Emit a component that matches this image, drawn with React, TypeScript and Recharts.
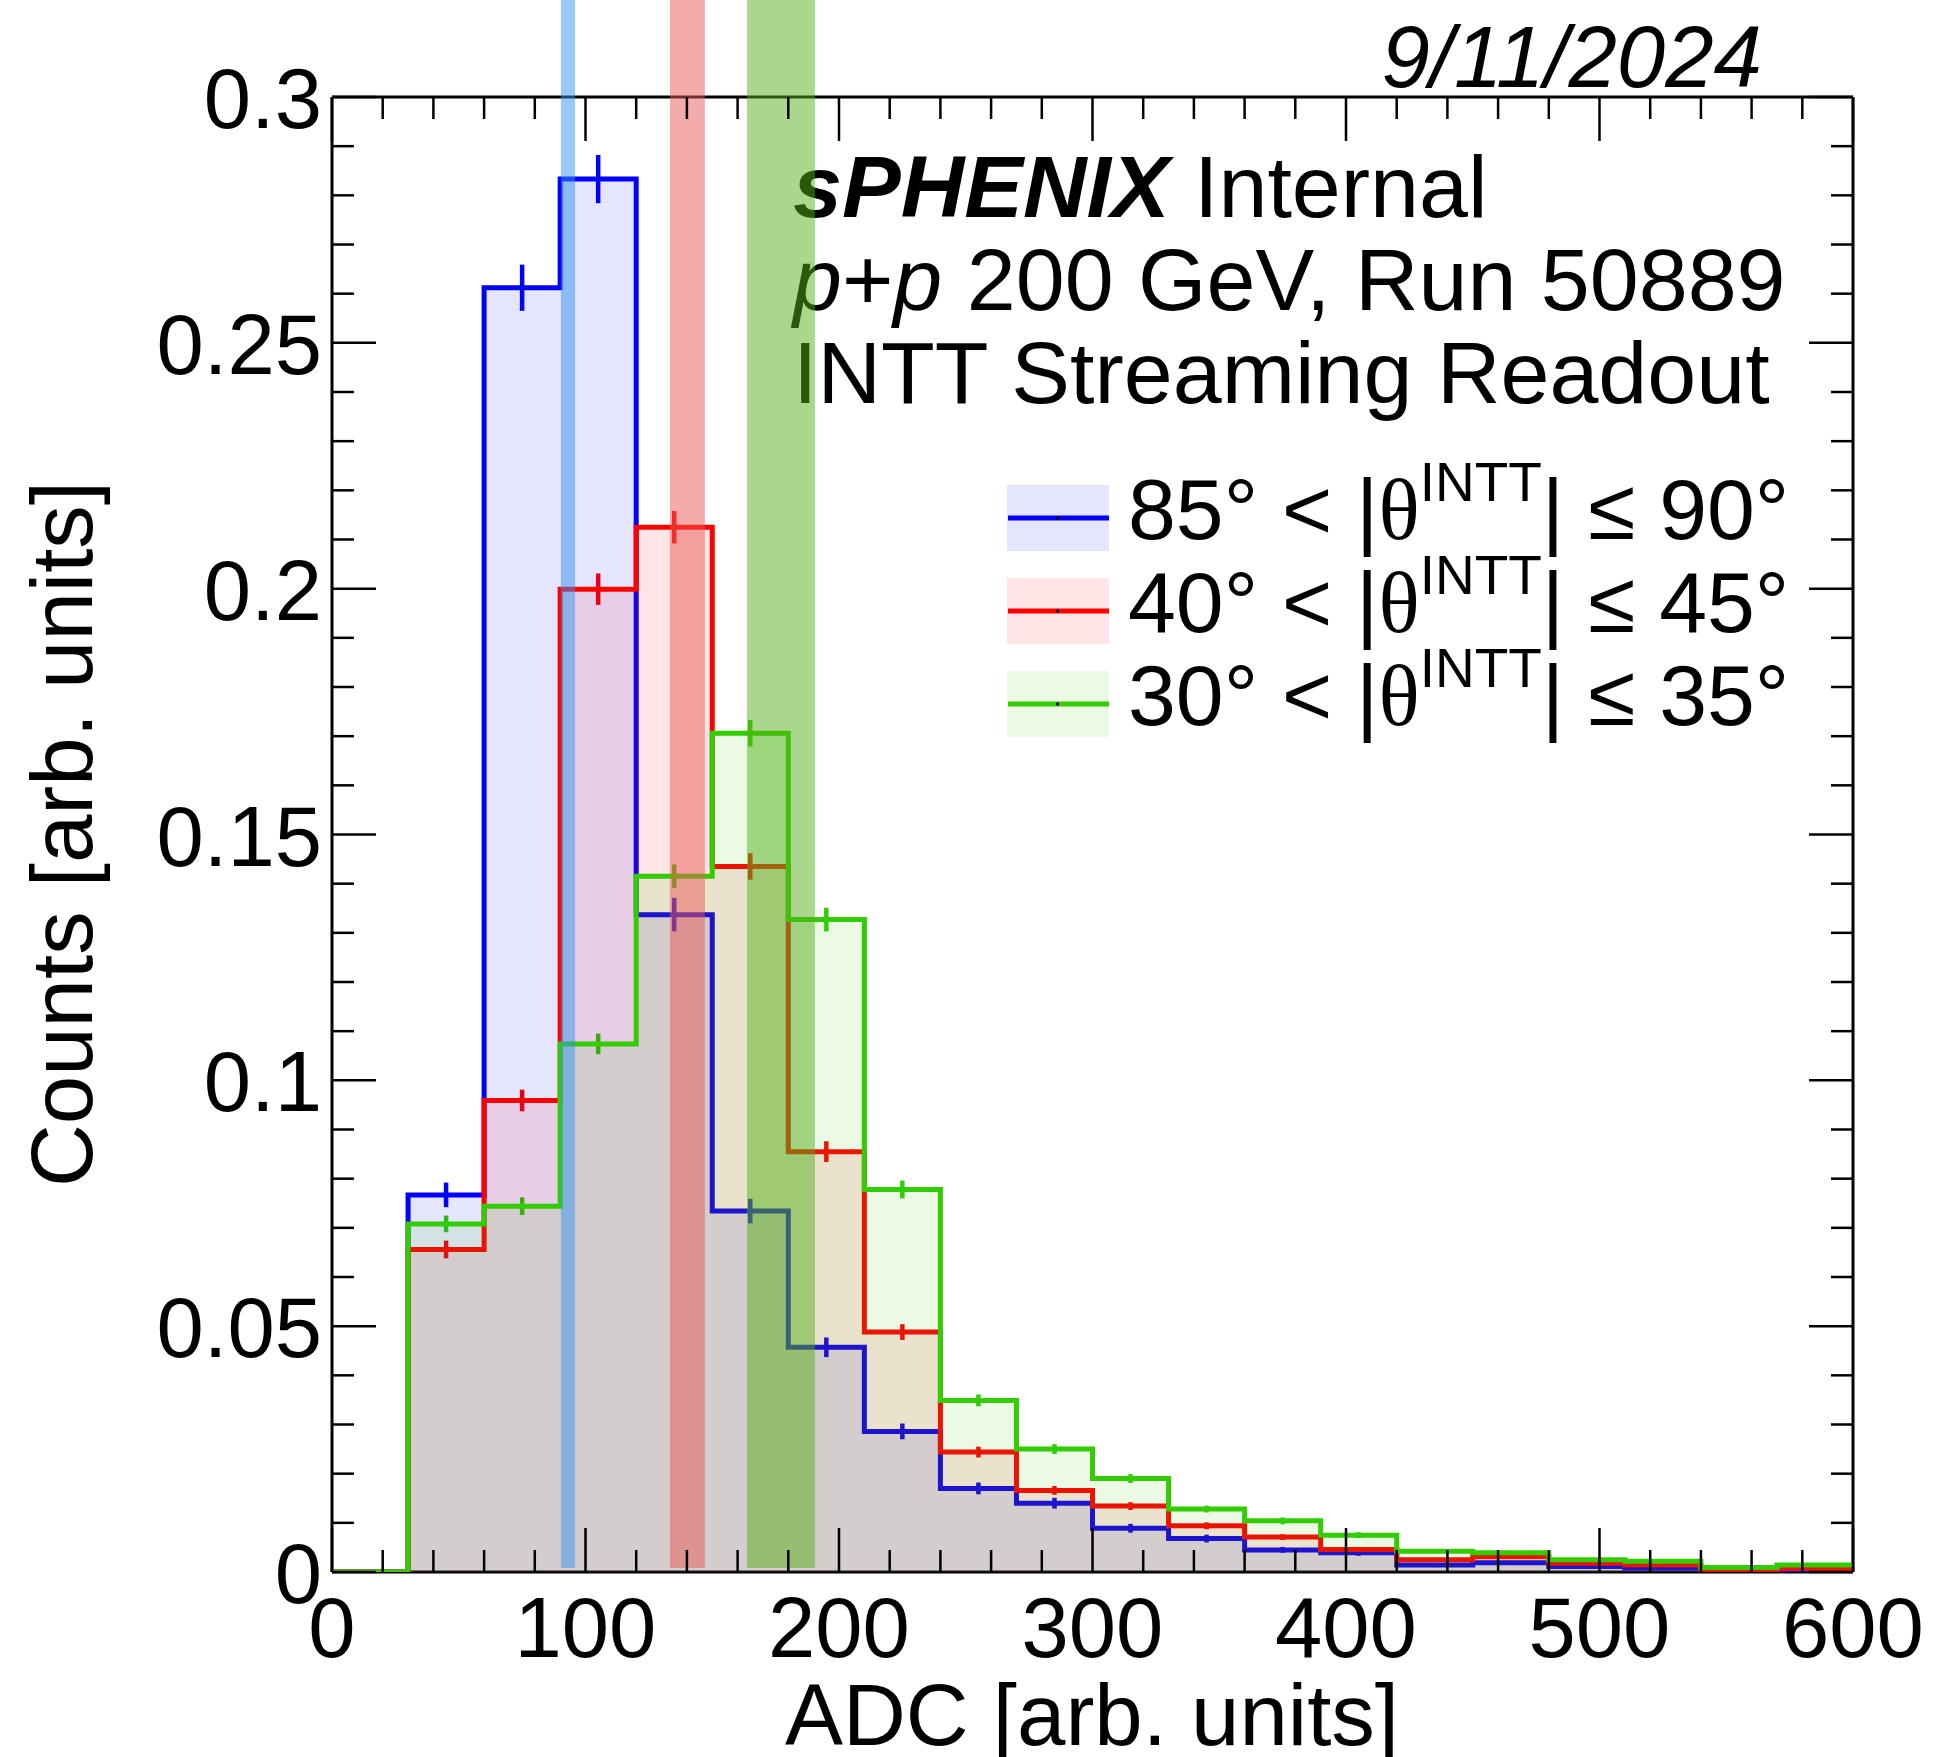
import React from 'react';
import {
  ComposedChart,
  Area,
  Scatter,
  ErrorBar,
  XAxis,
  YAxis,
  ReferenceArea,
  Legend,
} from 'recharts';

const FONT = '"Liberation Sans", Arial, Helvetica, sans-serif';

// ADC bins, 30 wide, lower edges
const binLow = [0, 30, 60, 90, 120, 150, 180, 210, 240, 270, 300, 330, 360, 390, 420, 450, 480, 510, 540, 570];
const binWidth = 30;

// 85 < |theta| <= 90
const blueVals = [0, 0.0767, 0.2612, 0.2833, 0.1337, 0.0734, 0.0457, 0.0286, 0.017, 0.014, 0.0089, 0.0068, 0.0045, 0.0039, 0.0014, 0.0019, 0.0011, 0.0008, 0.0002, 0.0005];
const blueErrs = [0, 0.0025, 0.0047, 0.0049, 0.0034, 0.0025, 0.002, 0.0016, 0.0012, 0.0011, 0.0009, 0.0008, 0.0006, 0.0006, 0.0004, 0.0004, 0.0003, 0.0003, 0.0001, 0.0002];
// 40 < |theta| <= 45
const redVals = [0, 0.0656, 0.0959, 0.1999, 0.2125, 0.1435, 0.0855, 0.0488, 0.0244, 0.0166, 0.0134, 0.0094, 0.0071, 0.0046, 0.0025, 0.0031, 0.0018, 0.0014, 0.0004, 0.0007];
const redErrs = [0, 0.0018, 0.0022, 0.0032, 0.0033, 0.0027, 0.0021, 0.0016, 0.0011, 0.0009, 0.0008, 0.0007, 0.0006, 0.0005, 0.0004, 0.0004, 0.0003, 0.0003, 0.0001, 0.0002];
// 30 < |theta| <= 35
const greenVals = [0, 0.0708, 0.0744, 0.1074, 0.1415, 0.1706, 0.1327, 0.0778, 0.0349, 0.025, 0.019, 0.0128, 0.0104, 0.0075, 0.0042, 0.0039, 0.0025, 0.0022, 0.0009, 0.0014];
const greenErrs = [0, 0.0017, 0.0018, 0.0021, 0.0024, 0.0027, 0.0024, 0.0018, 0.0012, 0.001, 0.0009, 0.0007, 0.0007, 0.0006, 0.0004, 0.0004, 0.0003, 0.0003, 0.0002, 0.0002];

const xTicks = [0, 20, 40, 60, 80, 100, 120, 140, 160, 180, 200, 220, 240, 260, 280, 300, 320, 340, 360, 380, 400, 420, 440, 460, 480, 500, 520, 540, 560, 580, 600];
const yTicks = [0, 0.01, 0.02, 0.03, 0.04, 0.05, 0.06, 0.07, 0.08, 0.09, 0.1, 0.11, 0.12, 0.13, 0.14, 0.15, 0.16, 0.17, 0.18, 0.19, 0.2, 0.21, 0.22, 0.23, 0.24, 0.25, 0.26, 0.27, 0.28, 0.29, 0.3];

// shaded ADC windows
const bandLow = [90.3, 133.3, 163.7];
const bandHigh = [95.9, 147.1, 190.5];
const bandColors = ['#3393ef', '#e95955', '#55af19'];

const series = [
  { key: 'blue', color: '#0000ff', lo: '85°', hi: '90°', vals: blueVals, errs: blueErrs },
  { key: 'red', color: '#ff0000', lo: '40°', hi: '45°', vals: redVals, errs: redErrs },
  { key: 'green', color: '#33cc00', lo: '30°', hi: '35°', vals: greenVals, errs: greenErrs },
];

// step points at bin edges (last value repeated at the upper edge)
const histData = [...binLow, 600].map((x, i) => {
  const j = Math.min(i, binLow.length - 1);
  return { x, blue: blueVals[j], red: redVals[j], green: greenVals[j] };
});

const errData = (vals: number[], errs: number[]) =>
  binLow
    .map((lo, i) => ({ x: lo + binWidth / 2, y: vals[i], err: errs[i] }))
    .filter((d) => d.y > 0);

const TICK = { stroke: '#000', strokeWidth: 2.5 };
const AXIS_LINE = { stroke: '#000', strokeWidth: 3 };

const BottomTick = (p: any) => {
  const v = p.payload.value;
  const major = v % 100 === 0;
  return (
    <g>
      <line x1={p.x} x2={p.x} y1={p.y} y2={p.y - (major ? 44 : 22)} {...TICK} />
      {major && (
        <text x={p.x} y={p.y + 85} textAnchor="middle" fontSize={85} fontFamily={FONT} fill="#000">
          {v}
        </text>
      )}
    </g>
  );
};

const TopTick = (p: any) => {
  const major = p.payload.value % 100 === 0;
  return <line x1={p.x} x2={p.x} y1={p.y} y2={p.y + (major ? 44 : 22)} {...TICK} />;
};

const isMajorY = (v: number) => Math.round(v * 1000) % 50 === 0;

const LeftTick = (p: any) => {
  const v = p.payload.value;
  const major = isMajorY(v);
  return (
    <g>
      <line x1={p.x} x2={p.x + (major ? 44 : 22)} y1={p.y} y2={p.y} {...TICK} />
      {major && (
        <text x={p.x - 10} y={p.y + 31} textAnchor="end" fontSize={85} fontFamily={FONT} fill="#000">
          {String(v)}
        </text>
      )}
    </g>
  );
};

const RightTick = (p: any) => {
  const major = isMajorY(p.payload.value);
  return <line x1={p.x} x2={p.x - (major ? 44 : 22)} y1={p.y} y2={p.y} {...TICK} />;
};

const LEG_X = 1000;
const LEG_Y = 470;

const renderLegend = () => (
  <svg width={900} height={300} style={{ display: 'block', overflow: 'visible' }}>
    {series.map((s, i) => {
      const cy = 48 + i * 93;
      return (
        <g key={s.key}>
          <rect x={7} y={cy - 33} width={102} height={66} fill={s.color} fillOpacity={0.1} />
          <line x1={8} x2={109} y1={cy} y2={cy} stroke={s.color} strokeWidth={5} />
          <rect x={56} y={cy - 1.5} width={3} height={3} fill="#000" />
          <text x={128} y={cy + 21} fontSize={86} fontFamily={FONT} fill="#000">
            {s.lo} {'<'} |<tspan fontFamily='"Liberation Serif", "DejaVu Serif", serif'>θ</tspan>
            <tspan fontSize={55} dy={-38}>INTT</tspan>
            <tspan dy={38}>| ≤ {s.hi}</tspan>
          </text>
        </g>
      );
    })}
  </svg>
);

export default function App() {
  return (
    <div style={{ position: 'absolute', left: 0, top: 0, width: 1948, height: 1757, background: '#fff' }}>
      <ComposedChart
        width={1948}
        height={1757}
        data={histData}
        margin={{ top: 96, right: 94, bottom: 184, left: 331 }}
      >
        <XAxis
          dataKey="x"
          type="number"
          domain={[0, 600]}
          ticks={xTicks}
          interval={0}
          allowDataOverflow
          height={1}
          tickSize={0}
          tickMargin={0}
          tickLine={false}
          axisLine={AXIS_LINE}
          tick={(p: any) => <BottomTick {...p} />}
        />
        <XAxis
          xAxisId="top"
          orientation="top"
          dataKey="x"
          type="number"
          domain={[0, 600]}
          ticks={xTicks}
          interval={0}
          allowDataOverflow
          height={1}
          tickSize={0}
          tickMargin={0}
          tickLine={false}
          axisLine={AXIS_LINE}
          tick={(p: any) => <TopTick {...p} />}
        />
        <YAxis
          type="number"
          domain={[0, 0.3]}
          ticks={yTicks}
          interval={0}
          allowDataOverflow
          width={1}
          tickSize={0}
          tickMargin={0}
          tickLine={false}
          axisLine={AXIS_LINE}
          tick={(p: any) => <LeftTick {...p} />}
        />
        <YAxis
          yAxisId="right"
          orientation="right"
          type="number"
          domain={[0, 0.3]}
          ticks={yTicks}
          interval={0}
          allowDataOverflow
          width={1}
          tickSize={0}
          tickMargin={0}
          tickLine={false}
          axisLine={AXIS_LINE}
          tick={(p: any) => <RightTick {...p} />}
        />

        {series.map((s) => (
          <Area
            key={s.key}
            type="stepAfter"
            dataKey={s.key}
            stroke={s.color}
            strokeWidth={5}
            fill={s.color}
            fillOpacity={0.1}
            dot={false}
            activeDot={false}
            isAnimationActive={false}
            zIndex={550}
          />
        ))}

        {series.map((s) => (
          <Scatter
            key={s.key + '-err'}
            data={errData(s.vals, s.errs)}
            dataKey="y"
            shape={() => <g />}
            isAnimationActive={false}
          >
            <ErrorBar dataKey="err" direction="y" width={0} stroke={s.color} strokeWidth={4.5} isAnimationActive={false} />
          </Scatter>
        ))}

        {bandLow.map((lo, i) => (
          <ReferenceArea
            key={'band' + i}
            x1={lo}
            x2={bandHigh[i]}
            y1={0.0008}
            y2={0.35}
            ifOverflow="visible"
            fill={bandColors[i]}
            fillOpacity={0.5}
            stroke="none"
            zIndex={1500}
          />
        ))}

        <Legend
          layout="horizontal"
          verticalAlign="middle"
          align="center"
          content={renderLegend}
          wrapperStyle={{ left: LEG_X, top: LEG_Y, width: 900, height: 300 }}
        />

        <text x={1762} y={87} textAnchor="end" fontSize={87} fontStyle="italic" fontFamily={FONT} fill="#000">
          9/11/2024
        </text>
        <text x={793} y={217} fontSize={88} fontFamily={FONT} fill="#000">
          <tspan fontWeight="bold" fontStyle="italic">sPHENIX</tspan> Internal
        </text>
        <text x={793} y={310} fontSize={88} fontFamily={FONT} fill="#000">
          <tspan fontStyle="italic">p</tspan>+<tspan fontStyle="italic">p</tspan> 200 GeV, Run 50889
        </text>
        <text x={793} y={403} fontSize={88} fontFamily={FONT} fill="#000">
          INTT Streaming Readout
        </text>
        <text x={1092} y={1745} textAnchor="middle" fontSize={87} fontFamily={FONT} fill="#000">
          ADC [arb. units]
        </text>
        <text
          transform="translate(92,834) rotate(-90)"
          textAnchor="middle"
          fontSize={87}
          fontFamily={FONT}
          fill="#000"
        >
          Counts [arb. units]
        </text>
      </ComposedChart>
    </div>
  );
}
